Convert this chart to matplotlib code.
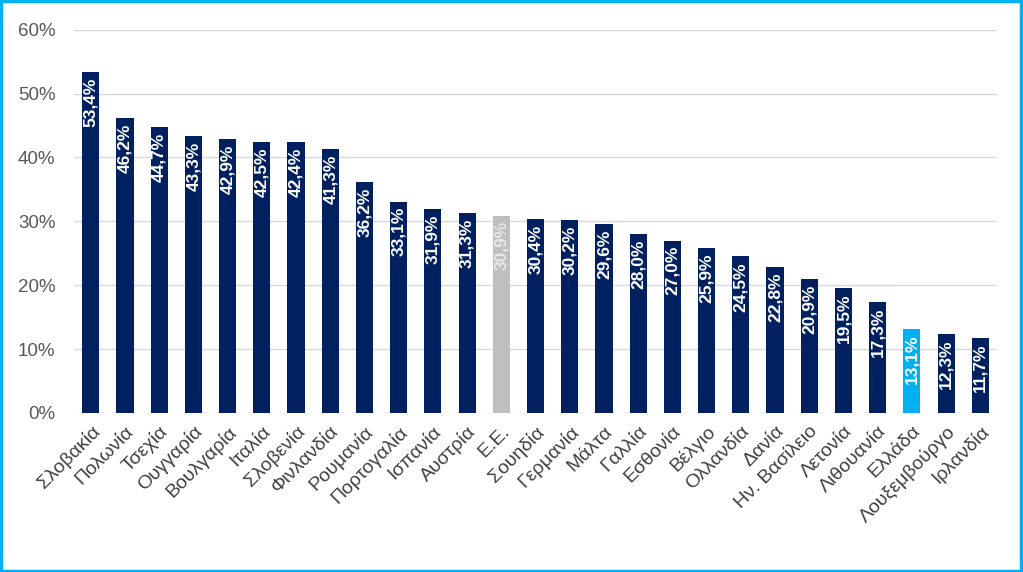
import matplotlib
matplotlib.use('Agg')
import matplotlib.pyplot as plt
import matplotlib.ticker as ticker
from matplotlib.patches import Rectangle

# ── data ──────────────────────────────────────────────────────────────────────
countries = ['Σλοβακία', 'Πολωνία', 'Τσεχία', 'Ουγγαρία', 'Βουλγαρία', 'Ιταλία',
             'Σλοβενία', 'Φινλανδία', 'Ρουμανία', 'Πορτογαλία', 'Ισπανία', 'Αυστρία',
             'Ε.Ε.', 'Σουηδία', 'Γερμανία', 'Μάλτα', 'Γαλλία', 'Εσθονία', 'Βέλγιο',
             'Ολλανδία', 'Δανία', 'Ην. Βασίλειο', 'Λετονία', 'Λιθουανία', 'Ελλάδα',
             'Λουξεμβούργο', 'Ιρλανδία']
values = [53.4, 46.2, 44.7, 43.3, 42.9, 42.5, 42.4, 41.3, 36.2, 33.1, 31.9, 31.3,
          30.9, 30.4, 30.2, 29.6, 28.0, 27.0, 25.9, 24.5, 22.8, 20.9, 19.5, 17.3,
          13.1, 12.3, 11.7]
y_ticks = [0, 10, 20, 30, 40, 50, 60]

NAVY, GREY, LIGHT_BLUE = '#002060', '#BFBFBF', '#00B0F0'
colors = [GREY if c == 'Ε.Ε.' else LIGHT_BLUE if c == 'Ελλάδα' else NAVY
          for c in countries]

plt.rcParams['font.family'] = ['Liberation Sans', 'DejaVu Sans']

fig = plt.figure(figsize=(10.23, 5.72), dpi=100)
ax = fig.add_axes([0.072, 0.278, 0.903, 0.670])

x = range(len(countries))
bars = ax.bar(x, values, color=colors, width=0.5, zorder=3)

ax.set_xlim(-0.5, len(countries) - 0.5)
ax.set_ylim(0, 60)
ax.set_yticks(y_ticks)
ax.yaxis.set_major_formatter(ticker.FuncFormatter(lambda v, _: f'{v:.0f}%'))
ax.tick_params(axis='y', length=0, labelsize=13.5, labelcolor='#595959', pad=13)
ax.grid(axis='y', color='#D9D9D9', linewidth=1, zorder=0)
for s in ax.spines.values():
    s.set_visible(False)

ax.set_xticks(list(x))
ax.set_xticklabels(countries, rotation=45, ha='right', rotation_mode='anchor',
                   fontsize=14, color='#404040')
ax.tick_params(axis='x', length=0, pad=7)

# value labels inside bars
for bar, val, c in zip(bars, values, colors):
    txt_color = '#E8E8E8' if c == GREY else 'white'
    ax.annotate(f'{val:.1f}%'.replace('.', ','),
                (bar.get_x() + bar.get_width() / 2, val),
                xytext=(0, -4), textcoords='offset points',
                rotation=90, ha='center', va='top', fontsize=12.5,
                fontweight='bold', color=txt_color,
                family=['Liberation Sans Narrow', 'Liberation Sans'], zorder=4)

# frame around the figure
fig.patches.append(Rectangle((0.001, 0.002), 0.997, 0.996, transform=fig.transFigure,
                             fill=False, edgecolor=LIGHT_BLUE, linewidth=2.5))

fig.savefig('out.png', dpi=100)
